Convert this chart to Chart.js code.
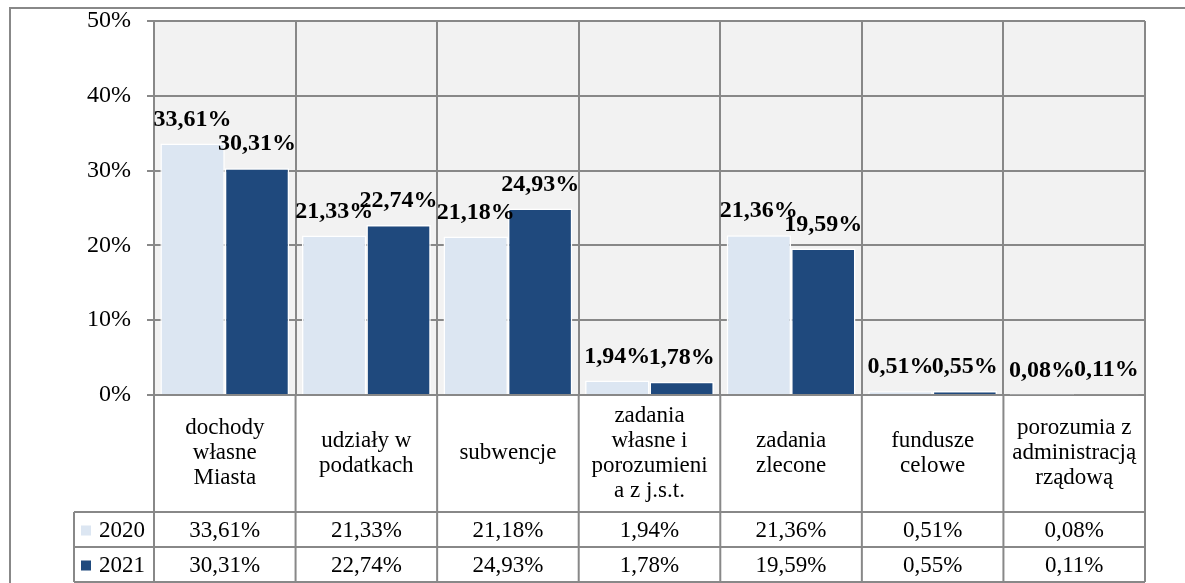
<!DOCTYPE html>
<html>
<head>
<meta charset="utf-8">
<script src="https://cdn.jsdelivr.net/npm/chart.js@4/dist/chart.umd.min.js"></script>
<style>
  html, body { margin: 0; padding: 0; background: #ffffff; }
  canvas { display: block; }
</style>
</head>
<body>
<canvas id="c" width="1185" height="583"></canvas>
<script>
const categories = [
  ["dochody", "własne", "Miasta"],
  ["udziały w", "podatkach"],
  ["subwencje"],
  ["zadania", "własne i", "porozumieni", "a z j.s.t."],
  ["zadania", "zlecone"],
  ["fundusze", "celowe"],
  ["porozumia z", "administracją", "rządową"]
];
const years = ["2020", "2021"];
const values2020 = [33.61, 21.33, 21.18, 1.94, 21.36, 0.51, 0.08];
const values2021 = [30.31, 22.74, 24.93, 1.78, 19.59, 0.55, 0.11];
const yTicks = [0, 10, 20, 30, 40, 50];

const colors = ["#DCE6F2", "#1F497D"];
const gridColor = "#888888";
const serif = "'Liberation Serif', 'Times New Roman', serif";

function fmt(v) { return v.toFixed(2).replace(".", ",") + "%"; }

const TABLE = { catBottom: 512, row1Bottom: 547, row2Bottom: 582, legendLeft: 74 };

const bgPlugin = {
  id: "bg",
  beforeDraw(chart) {
    const { ctx, chartArea: a } = chart;
    ctx.save();
    ctx.fillStyle = "#F2F2F2";
    ctx.fillRect(a.left, a.top, a.right - a.left, a.bottom - a.top);
    ctx.strokeStyle = gridColor;
    ctx.lineWidth = 2;
    ctx.beginPath();
    ctx.moveTo(10, 583);
    ctx.lineTo(10, 8);
    ctx.lineTo(1185, 8);
    ctx.stroke();
    ctx.restore();
  }
};

const tablePlugin = {
  id: "dataTable",
  afterDraw(chart) {
    const { ctx, chartArea: a } = chart;
    const n = categories.length;
    const w = (a.right - a.left) / n;
    ctx.save();
    ctx.strokeStyle = gridColor;
    ctx.lineWidth = 2;
    ctx.beginPath();
    for (let i = 0; i <= n; i++) {
      const x = a.left + i * w;
      ctx.moveTo(x, a.bottom);
      ctx.lineTo(x, TABLE.row2Bottom);
    }
    [TABLE.catBottom, TABLE.row1Bottom, TABLE.row2Bottom].forEach(y => {
      ctx.moveTo(TABLE.legendLeft, y);
      ctx.lineTo(a.right, y);
    });
    ctx.moveTo(TABLE.legendLeft, TABLE.catBottom);
    ctx.lineTo(TABLE.legendLeft, TABLE.row2Bottom);
    ctx.stroke();

    ctx.fillStyle = "#000";
    ctx.textAlign = "center";
    ctx.textBaseline = "middle";
    ctx.font = "23px " + serif;
    const catMid = 453;
    const lh = 25;
    const xScale = chart.scales.x;
    categories.forEach((lines, i) => {
      const cx = xScale.getPixelForValue(i);
      const y0 = catMid - (lines.length - 1) * lh / 2;
      lines.forEach((t, j) => ctx.fillText(t, cx, y0 + j * lh));
    });
    const rowMids = [(TABLE.catBottom + TABLE.row1Bottom) / 2 + 1, (TABLE.row1Bottom + TABLE.row2Bottom) / 2 + 1];
    [values2020, values2021].forEach((vals, r) => {
      vals.forEach((v, i) => {
        ctx.fillText(fmt(v), xScale.getPixelForValue(i), rowMids[r]);
      });
      ctx.fillStyle = colors[r];
      ctx.fillRect(81, rowMids[r] - 5, 10, 10);
      ctx.fillStyle = "#000";
      ctx.textAlign = "left";
      ctx.fillText(years[r], 99, rowMids[r]);
      ctx.textAlign = "center";
    });
    ctx.restore();
  }
};

const labelPlugin = {
  id: "barLabels",
  afterDatasetsDraw(chart) {
    const { ctx } = chart;
    ctx.save();
    ctx.fillStyle = "#000";
    ctx.font = "bold 24px " + serif;
    ctx.textAlign = "center";
    ctx.textBaseline = "middle";
    chart.data.datasets.forEach((ds, di) => {
      const meta = chart.getDatasetMeta(di);
      meta.data.forEach((bar, i) => {
        ctx.fillText(fmt(ds.data[i]), bar.x, bar.y - 24);
      });
    });
    ctx.restore();
  }
};

new Chart(document.getElementById("c"), {
  type: "bar",
  data: {
    labels: categories.map(c => c.join(" ")),
    datasets: [
      { label: years[0], data: values2020, backgroundColor: colors[0], borderColor: "#ffffff", borderWidth: 1.5 },
      { label: years[1], data: values2021, backgroundColor: colors[1], borderColor: "#ffffff", borderWidth: 1.5 }
    ]
  },
  options: {
    responsive: false,
    devicePixelRatio: 1,
    animation: false,
    layout: { padding: { left: 10, right: 40, top: 21, bottom: 188 } },
    datasets: { bar: { categoryPercentage: 0.91, barPercentage: 1.0 } },
    plugins: { legend: { display: false }, tooltip: { enabled: false } },
    scales: {
      x: {
        ticks: { display: false },
        grid: { offset: true, color: gridColor, lineWidth: 2, drawTicks: false },
        border: { display: true, color: gridColor, width: 2 },
        afterFit(s) { s.height = 0; s.paddingLeft = 0; s.paddingRight = 0; }
      },
      y: {
        min: 0, max: 50,
        afterBuildTicks(s) { s.ticks = yTicks.map(v => ({ value: v })); },
        ticks: {
          callback: v => v + "%",
          color: "#000",
          padding: 16,
          font: { family: serif, size: 24 }
        },
        grid: { color: gridColor, lineWidth: 2, tickLength: 7 },
        border: { display: true, color: gridColor, width: 2 },
        afterFit(s) { s.width = 144; s.paddingTop = 0; s.paddingBottom = 0; }
      }
    }
  },
  plugins: [bgPlugin, tablePlugin, labelPlugin]
});
</script>
</body>
</html>
